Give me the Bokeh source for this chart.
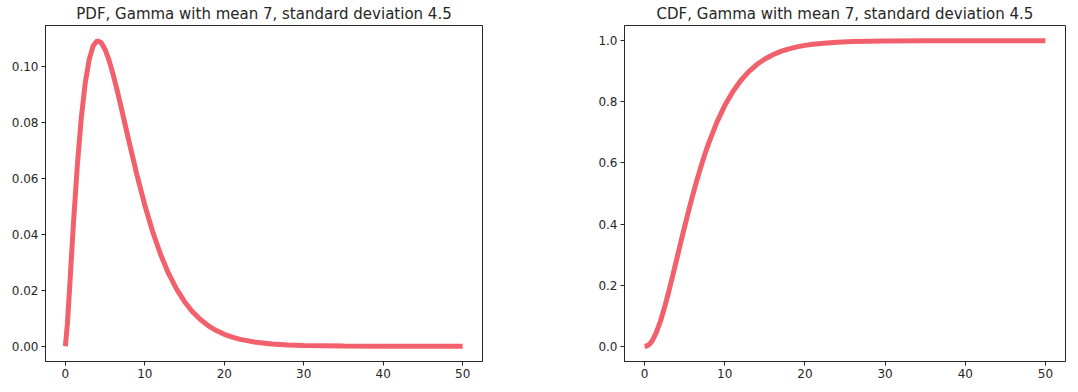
from bokeh.plotting import figure
from bokeh.layouts import row
from bokeh.models import Range1d, FixedTicker, PrintfTickFormatter
from bokeh.embed import file_html
from bokeh.resources import INLINE

# Values (Gamma, mean 7, sd 4.5)
x_vals = [0, 0.25, 0.5, 0.75, 1, 1.5, 2, 2.5, 3, 3.5, 4, 4.5, 5, 5.5, 6, 6.5, 7,
          7.5, 8, 9, 10, 11, 12, 13, 14, 15, 16, 17, 18, 19, 20, 21, 22, 24,
          26, 28, 30, 35, 40, 45, 50]
pdf_vals = [0.0, 0.00779, 0.01911, 0.03117, 0.04302, 0.06436, 0.08146, 0.09407,
            0.10252, 0.10735, 0.10916, 0.10855, 0.10606, 0.10215, 0.09724,
            0.09165, 0.08566, 0.07948, 0.07328, 0.06130, 0.05039, 0.04083,
            0.03269, 0.02592, 0.02038, 0.01591, 0.01234, 0.00952, 0.00731,
            0.00558, 0.00425, 0.00322, 0.00244, 0.00138, 0.00078, 0.00043,
            0.00024, 0.00005, 0.00001, 0.0, 0.0]
cdf_vals = [0.0, 0.0008, 0.0042, 0.0104, 0.0197, 0.0467, 0.0834, 0.1274, 0.1767,
            0.2294, 0.2836, 0.3381, 0.3918, 0.4439, 0.4938, 0.5410, 0.5854,
            0.6267, 0.6649, 0.7321, 0.7878, 0.8333, 0.8700, 0.8991, 0.9222,
            0.9403, 0.9543, 0.9652, 0.9736, 0.9800, 0.9849, 0.9886, 0.9914,
            0.9952, 0.9973, 0.9984, 0.9991, 0.99985, 0.99997, 1.0, 1.0]

x_ticks = [0, 10, 20, 30, 40, 50]
pdf_ticks = [0.0, 0.02, 0.04, 0.06, 0.08, 0.10]
cdf_ticks = [0.0, 0.2, 0.4, 0.6, 0.8, 1.0]

titles = ["PDF, Gamma with mean 7, standard deviation 4.5",
          "CDF, Gamma with mean 7, standard deviation 4.5"]

FONT = "DejaVu Sans"
LINE_COLOR = "#f2606b"


def make_fig(title, y, yticks, yfmt, y_range, fw, border_left, border_right):
    p = figure(output_backend="svg", toolbar_location=None,
               frame_width=fw, frame_height=336,
               min_border_left=border_left, min_border_right=border_right,
               min_border_top=0, min_border_bottom=22,
               x_range=Range1d(-2.5, 52.5), y_range=Range1d(*y_range),
               title=title)
    p.title.text_font = FONT
    p.title.text_font_size = "15px"
    p.title.text_font_style = "normal"
    p.title.text_color = "#262626"
    p.title.align = "center"
    p.title.standoff = 5
    p.line(x_vals, y, line_color=LINE_COLOR, line_width=5, line_cap="butt")
    p.xgrid.visible = False
    p.ygrid.visible = False
    p.outline_line_color = "#262626"
    p.outline_line_alpha = 1.0
    for ax in (p.xaxis[0], p.yaxis[0]):
        ax.axis_line_color = "#262626"
        ax.major_tick_in = 0
        ax.major_tick_out = 4
        ax.major_tick_line_color = "#262626"
        ax.minor_tick_line_color = None
        ax.major_label_text_font = FONT
        ax.major_label_text_font_size = "12px"
        ax.major_label_text_color = "#262626"
        ax.major_label_standoff = 3
    p.xaxis[0].ticker = FixedTicker(ticks=x_ticks)
    p.yaxis[0].ticker = FixedTicker(ticks=yticks)
    p.yaxis[0].formatter = PrintfTickFormatter(format=yfmt)
    return p


p1 = make_fig(titles[0], pdf_vals, pdf_ticks, "%.2f", (-0.00546, 0.11462), 437, 45, 66)
p2 = make_fig(titles[1], cdf_vals, cdf_ticks, "%.1f", (-0.05, 1.05), 441, 76, 3)

layout = row(p1, p2, spacing=0)
open("out.html", "w").write(file_html(layout, INLINE))
